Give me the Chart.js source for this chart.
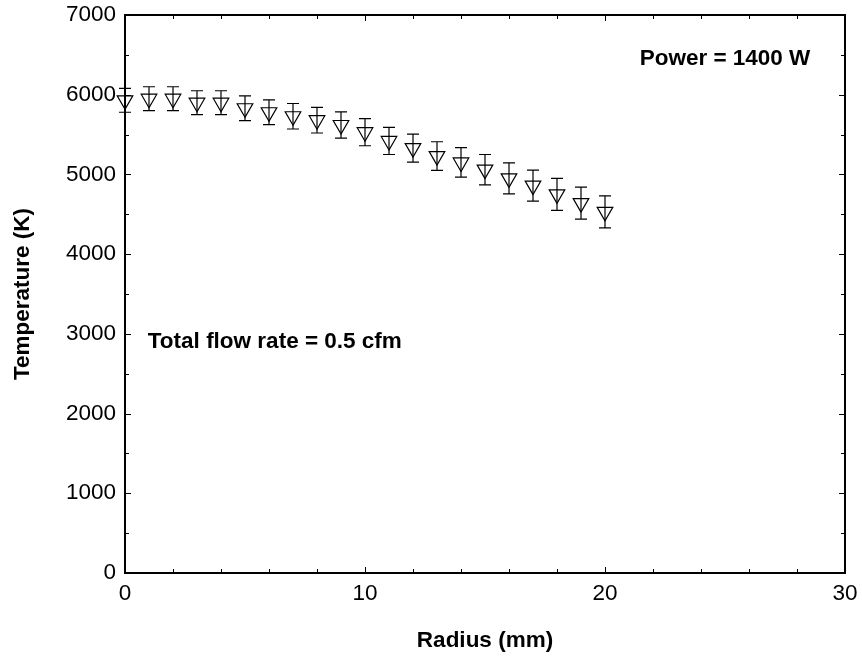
<!DOCTYPE html>
<html>
<head>
<meta charset="utf-8">
<script src="https://cdn.jsdelivr.net/npm/chart.js@4.4.0/dist/chart.umd.min.js"></script>
<style>
html,body{margin:0;padding:0;background:#fff;}
#wrap{width:862px;height:662px;}
</style>
</head>
<body>
<div id="wrap"><canvas id="c" width="862" height="662"></canvas></div>
<script>
const radius = [0,1,2,3,4,5,6,7,8,9,10,11,12,13,14,15,16,17,18,19,20];
const temperature = [5930,5950,5950,5900,5900,5830,5780,5730,5680,5620,5530,5420,5330,5230,5150,5060,4950,4860,4750,4640,4530];
const errorBar = [150,150,150,150,150,155,155,160,160,165,170,170,175,180,185,190,195,195,200,200,200];
const xTicks = [0,10,20,30];
const yTicks = [0,1000,2000,3000,4000,5000,6000,7000];
const xMinorStep = 2;
const yMinorStep = 500;
const notes = [
  {text:'Power = 1400 W', x:25, y:6450, align:'center'},
  {text:'Total flow rate = 0.5 cfm', x:0.95, y:2900, align:'left'}
];

const FONT = '"Liberation Sans", Arial, sans-serif';
const FS = 22.5;

const framePlugin = {
  id:'frame',
  afterDatasetsDraw(chart){
    const ctx = chart.ctx, a = chart.chartArea;
    const xs = chart.scales.x, ys = chart.scales.y;
    ctx.save();
    ctx.strokeStyle = '#000'; ctx.lineWidth = 1.2;
    radius.forEach((r,i)=>{
      const px = xs.getPixelForValue(r);
      const top = ys.getPixelForValue(temperature[i]+errorBar[i]);
      const bot = ys.getPixelForValue(temperature[i]-errorBar[i]);
      ctx.beginPath();
      ctx.moveTo(px, top); ctx.lineTo(px, bot);
      ctx.moveTo(px-6, top); ctx.lineTo(px+6, top);
      ctx.moveTo(px-6, bot); ctx.lineTo(px+6, bot);
      ctx.stroke();
    });
    ctx.lineWidth = 2;
    ctx.strokeRect(a.left, a.top, a.right-a.left, a.bottom-a.top);
    ctx.lineWidth = 1;
    for(let v=xs.min; v<=xs.max+1e-9; v+=xMinorStep){
      const px = Math.round(xs.getPixelForValue(v))+0.5;
      const L = xTicks.includes(v)?6:4;
      ctx.beginPath();
      ctx.moveTo(px,a.bottom); ctx.lineTo(px,a.bottom-L);
      ctx.moveTo(px,a.top); ctx.lineTo(px,a.top+L);
      ctx.stroke();
    }
    for(let v=ys.min; v<=ys.max+1e-9; v+=yMinorStep){
      const py = Math.round(ys.getPixelForValue(v))+0.5;
      const L = yTicks.includes(v)?6:4;
      ctx.beginPath();
      ctx.moveTo(a.left,py); ctx.lineTo(a.left+L,py);
      ctx.moveTo(a.right,py); ctx.lineTo(a.right-L,py);
      ctx.stroke();
    }
    ctx.fillStyle = '#000';
    ctx.font = 'bold ' + FS + 'px ' + FONT;
    ctx.textBaseline = 'middle';
    notes.forEach(n=>{
      ctx.textAlign = n.align;
      ctx.fillText(n.text, xs.getPixelForValue(n.x), ys.getPixelForValue(n.y));
    });
    ctx.restore();
  }
};

new Chart(document.getElementById('c'), {
  type:'scatter',
  data:{
    datasets:[{
      data: radius.map((r,i)=>({x:r,y:temperature[i]})),
      pointStyle:'triangle',
      rotation:180,
      pointRadius:9,
      borderColor:'#000',
      backgroundColor:'#fff',
      borderWidth:1.2,
      showLine:false,
      clip:false
    }]
  },
  options:{
    responsive:false,
    animation:false,
    devicePixelRatio:1,
    layout:{padding:{left:0,top:15,right:17,bottom:0}},
    plugins:{legend:{display:false},tooltip:{enabled:false}},
    scales:{
      x:{
        type:'linear', min:0, max:30,
        afterBuildTicks(s){ s.ticks = xTicks.map(v=>({value:v})); },
        afterFit(s){ s.height = 89; s.paddingLeft = 0; s.paddingRight = 0; },
        grid:{display:false, drawTicks:false},
        border:{display:false},
        ticks:{color:'#000', font:{family:FONT,size:FS}, padding:7, maxRotation:0, callback:v=>String(v)},
        title:{display:true, text:'Radius (mm)', color:'#000', font:{family:FONT,size:FS,weight:'bold'}, padding:{top:0,bottom:8}}
      },
      y:{
        type:'linear', min:0, max:7000,
        afterBuildTicks(s){ s.ticks = yTicks.map(v=>({value:v})); },
        afterFit(s){ s.width = 125; s.paddingTop = 0; s.paddingBottom = 0; },
        grid:{display:false, drawTicks:false},
        border:{display:false},
        ticks:{color:'#000', font:{family:FONT,size:FS}, padding:9, callback:v=>String(v)},
        title:{display:true, text:'Temperature (K)', color:'#000', font:{family:FONT,size:FS,weight:'bold'}, padding:{top:9,bottom:0}}
      }
    }
  },
  plugins:[framePlugin]
});
</script>
</body>
</html>
